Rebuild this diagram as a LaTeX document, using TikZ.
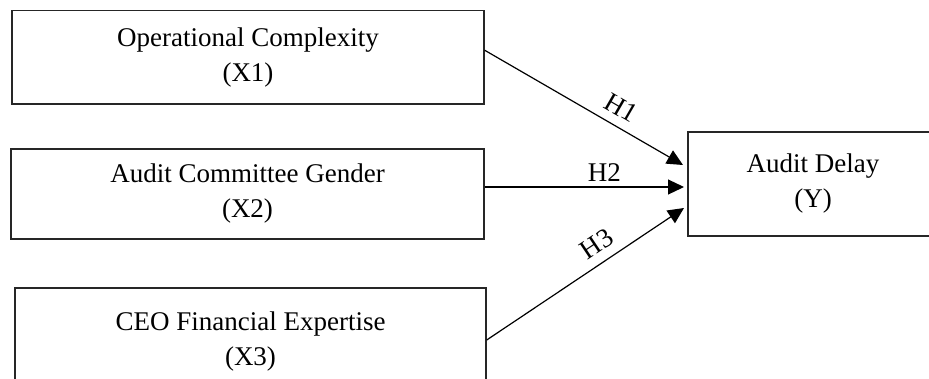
\documentclass[tikz,border=0pt]{standalone}
\usepackage{fontspec}
\setmainfont{Liberation Serif}
\usetikzlibrary{arrows.meta,calc}
\begin{document}
\begin{tikzpicture}[x=1pt,y=-1pt,
  box/.style={draw=black!85, line width=1.4pt, inner sep=0pt, align=center,
    font=\fontsize{27}{35}\selectfont},
  conn/.style={draw=black, line width=1.2pt, -{Triangle[length=16pt,width=15pt]}},
  hlab/.style={font=\fontsize{27}{30}\selectfont, inner sep=1pt}]
\useasboundingbox (0,0) rectangle (929,378);
\begin{scope}
\clip (0,0) rectangle (929,378);
\node[box, minimum width=472pt, minimum height=93.5pt] (x1) at (248,57.25) {Operational Complexity\\(X1)};
\node[box, minimum width=473pt, minimum height=90pt] (x2) at (247.5,194) {Audit Committee Gender\\(X2)};
\node[box, minimum width=471pt, minimum height=108pt] (x3) at (250.5,342) {CEO Financial Expertise\\(X3)};
\node[box, minimum width=250pt, minimum height=104pt] (y) at (813,184) {Audit Delay\\(Y)};
\coordinate (t1) at (683,165);
\coordinate (t2) at (684,187);
\coordinate (t3) at (684,208);
\draw[conn] ([yshift=7pt]x1.east) -- node[hlab, sloped, above=8pt, pos=0.64] (h1) {H1} (t1);
\draw[conn] ([yshift=7pt]x2.east) -- node[hlab, above=4pt, pos=0.6] (h2) {H2} (t2);
\draw[conn] ([yshift=2pt]x3.east) -- node[hlab, sloped, above=8pt, pos=0.61] (h3) {H3} (t3);
\end{scope}
\end{tikzpicture}
\end{document}
